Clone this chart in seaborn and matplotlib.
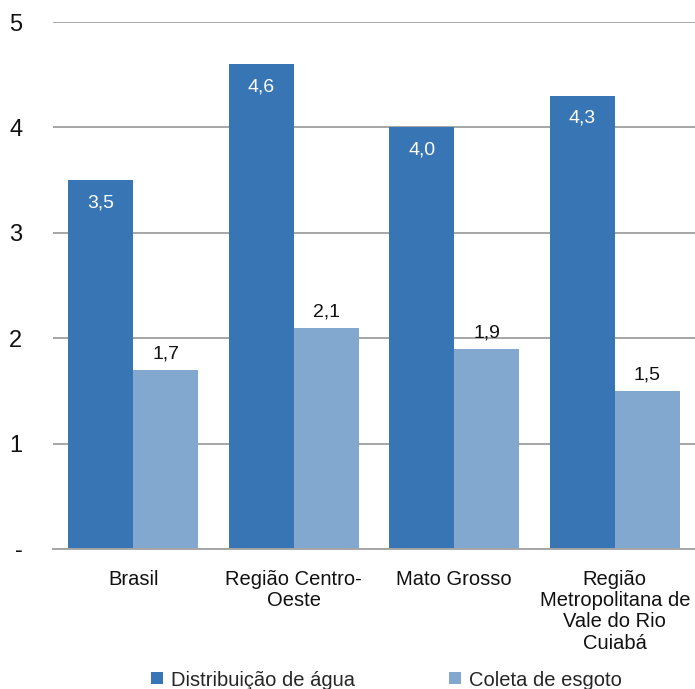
import matplotlib
matplotlib.use("Agg")
import matplotlib.pyplot as plt
from matplotlib.lines import Line2D
import seaborn as sns
import pandas as pd

# Chart data
categories = ["Brasil", "Região Centro-\nOeste", "Mato Grosso",
              "Região\nMetropolitana de\nVale do Rio\nCuiabá"]
series_names = ["Distribuição de água", "Coleta de esgoto"]
agua = [3.5, 4.6, 4.0, 4.3]
esgoto = [1.7, 2.1, 1.9, 1.5]
y_ticks = [0, 1, 2, 3, 4, 5]
y_tick_labels = ["-", "1", "2", "3", "4", "5"]

colors = ["#3775B4", "#82A8D0"]

df = pd.DataFrame({
    "categoria": categories * 2,
    "serie": [series_names[0]] * len(categories) + [series_names[1]] * len(categories),
    "valor": agua + esgoto,
})

sns.set_theme(style="white")
plt.rcParams["font.family"] = ["Liberation Sans Narrow", "Liberation Sans", "DejaVu Sans"]

fig = plt.figure(figsize=(6.95, 6.89), dpi=100)
ax = fig.add_axes([0.0763, 0.2032, 0.9237, 0.7648])

sns.barplot(data=df, x="categoria", y="valor", hue="serie",
            hue_order=series_names, palette=colors, order=categories,
            width=0.81, saturation=1, errorbar=None, ax=ax, legend=False,
            linewidth=0)

ax.set_ylim(0, 5)
ax.set_xlim(-0.5, len(categories) - 0.5)
ax.set_yticks(y_ticks)
ax.set_yticklabels(y_tick_labels, fontsize=17, color="#111111")
ax.tick_params(axis="y", length=0, pad=22)
ax.tick_params(axis="x", length=0, pad=15, labelsize=14.5, labelcolor="#111111")
for lbl in ax.get_xticklabels():
    lbl.set_linespacing(1.15)
ax.set_xlabel("")
ax.set_ylabel("")

ax.grid(axis="y", color="#A6A6A6", linewidth=1.4)
ax.set_axisbelow(True)
for side in ["top", "right", "left"]:
    ax.spines[side].set_visible(False)
ax.spines["bottom"].set_color("#A6A6A6")
ax.spines["bottom"].set_linewidth(1.4)

# Value labels: inside the dark bars, above the light bars
for i, container in enumerate(ax.containers):
    for bar in container:
        h = bar.get_height()
        x = bar.get_x() + bar.get_width() / 2
        txt = f"{h:.1f}".replace(".", ",")
        if i == 0:
            ax.annotate(txt, (x, h), xytext=(0, -10), textcoords="offset points",
                        ha="center", va="top", color="white", fontsize=14)
        else:
            ax.annotate(txt, (x, h), xytext=(0, 5), textcoords="offset points",
                        ha="center", va="bottom", color="#111111", fontsize=14)

handles = [Line2D([0], [0], marker="s", linestyle="none", markersize=9,
                  markerfacecolor=c, markeredgewidth=0) for c in colors]
fig.legend(handles, series_names, loc="center", bbox_to_anchor=(0.556, 0.013),
           ncol=2, frameon=False, fontsize=14.5, handlelength=0.6,
           handletextpad=0.4, columnspacing=4.7, borderaxespad=0)

fig.savefig("out.png", dpi=100)
